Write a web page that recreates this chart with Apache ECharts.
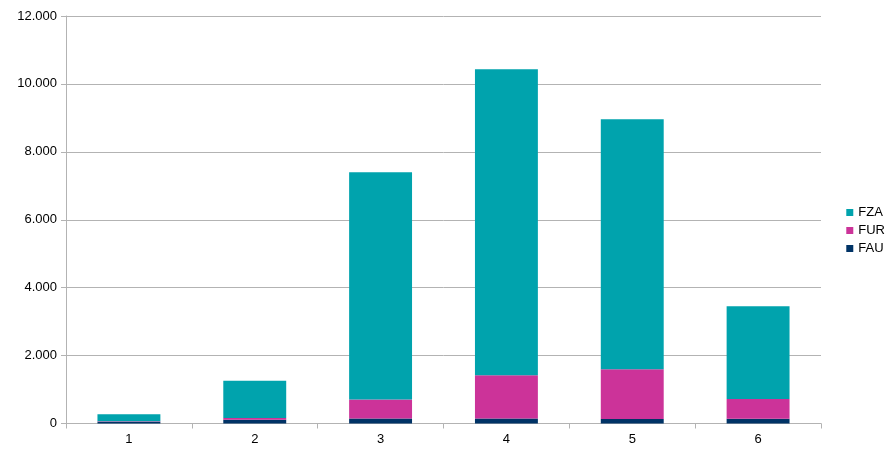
<!DOCTYPE html>
<html><head><meta charset="utf-8">
<script src="https://cdn.jsdelivr.net/npm/echarts@6/dist/echarts.min.js"></script>
<style>html,body{margin:0;padding:0;background:#fff}#c{width:894px;height:457px}</style>
</head><body><div id="c"></div>
<script>
const categories = ['1','2','3','4','5','6'];
const FAU = [50, 110, 150, 150, 130, 140];
const FUR = [15, 50, 560, 1270, 1465, 580];
const FZA = [205, 1100, 6690, 9010, 7365, 2730];
const yTicks = [0, 2000, 4000, 6000, 8000, 10000, 12000];

const chart = echarts.init(document.getElementById('c'));
const font = 'Liberation Sans';
chart.setOption({
  animation: false,
  textStyle: {fontFamily: font},
  grid: {left: 66, right: 73, top: 16, bottom: 33.5, containLabel: false},
  legend: {
    orient: 'vertical', right: 4, top: 201,
    data: ['FZA', 'FUR', 'FAU'],
    icon: 'rect', itemWidth: 7, itemHeight: 7, itemGap: 5,
    textStyle: {fontFamily: font, fontSize: 13, color: '#000', padding: [0,0,0,0]}
  },
  xAxis: {
    type: 'category', data: categories,
    axisLine: {lineStyle: {color: '#b3b3b3'}},
    axisTick: {show: true, length: 5, lineStyle: {color: '#b3b3b3'}},
    axisLabel: {color: '#000', fontSize: 13, fontFamily: font, margin: 9}
  },
  yAxis: {
    type: 'value', min: yTicks[0], max: yTicks[yTicks.length-1], interval: 2000,
    axisLine: {show: true, lineStyle: {color: '#b3b3b3'}},
    axisTick: {show: true, length: 5, lineStyle: {color: '#b3b3b3'}},
    splitLine: {lineStyle: {color: '#b3b3b3'}},
    axisLabel: {color: '#000', fontSize: 13, fontFamily: font, margin: 9,
      formatter: v => v === 0 ? '0' : (v/1000).toFixed(3)}
  },
  series: [
    {name: 'FAU', type: 'bar', stack: 's', data: FAU, barWidth: '50%', itemStyle: {color: '#003366'}},
    {name: 'FUR', type: 'bar', stack: 's', data: FUR, itemStyle: {color: '#cc3399'}},
    {name: 'FZA', type: 'bar', stack: 's', data: FZA, itemStyle: {color: '#00a3ad'}}
  ]
});
</script></body></html>
